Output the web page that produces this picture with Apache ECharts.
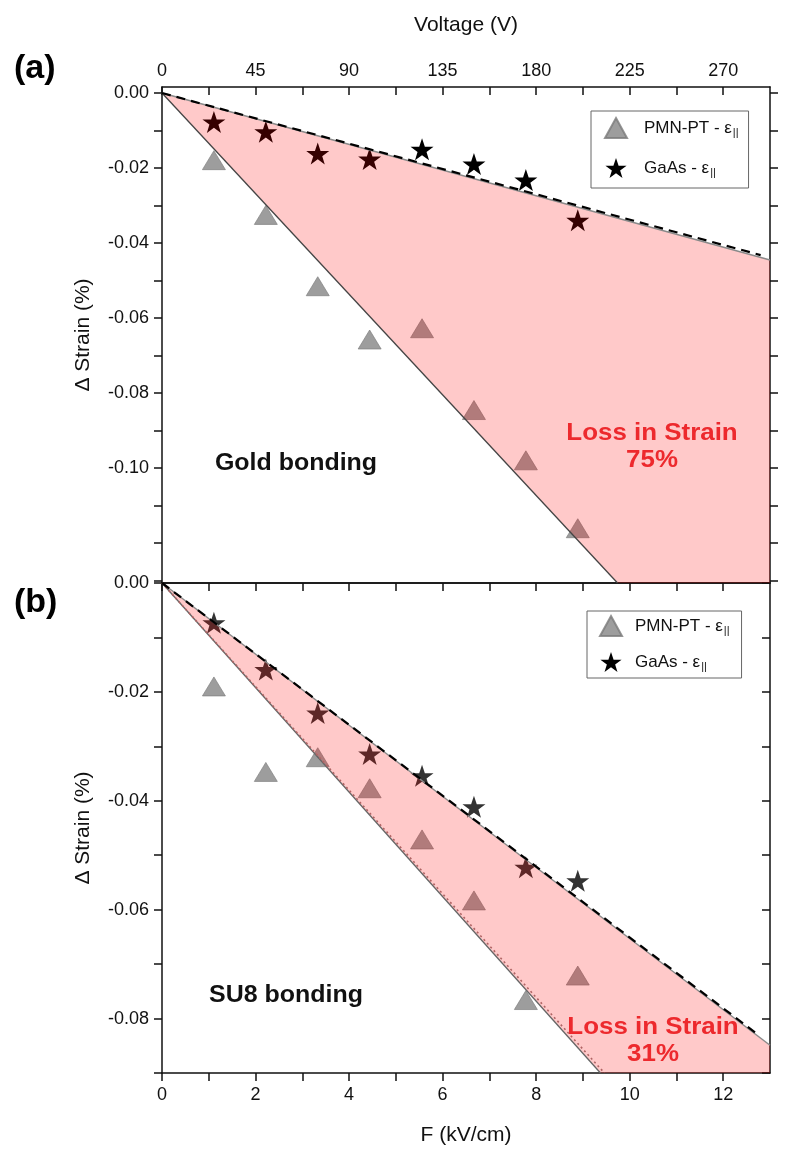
<!DOCTYPE html>
<html><head><meta charset="utf-8">
<script src="https://cdn.jsdelivr.net/npm/echarts@6/dist/echarts.min.js"></script>
<style>html,body{margin:0;padding:0;background:#fff}#c{width:800px;height:1165px}</style>
</head><body><div id="c"></div>
<script>
// ---- data (x in kV/cm, y in Δ strain %) ----
const fieldA = [1.11, 2.22, 3.33, 4.44, 5.56, 6.67, 7.78, 8.89];
const pmnA   = [-0.0179, -0.0325, -0.0515, -0.0657, -0.0627, -0.0845, -0.0979, -0.1160];
const gaasA  = [-0.0077, -0.0103, -0.0161, -0.0176, -0.0150, -0.0189, -0.0232, -0.0339];
const fieldB = [1.11, 2.22, 3.33, 4.44, 5.56, 6.67, 7.78, 8.89];
const pmnB   = [-0.0190, -0.0347, -0.0320, -0.0377, -0.0471, -0.0583, -0.0766, -0.0721];
const gaasB  = [-0.0073, -0.0159, -0.0239, -0.0314, -0.0354, -0.0411, -0.0522, -0.0547];

// fit lines (end points) and shaded "loss" regions
const fitGaasA     = [[0, 0], [13, -0.0445]];
const fitGaasDashA = [[0, 0], [12.8, -0.0432]];
const fitPmnA      = [[0, 0], [9.74, -0.1306]];
const lossA        = [[0, 0], [13, -0.0445], [13, -0.1306], [9.74, -0.1306]];
const fitGaasB     = [[0, 0], [13, -0.0849]];
const fitGaasDashB = [[0, 0], [12.75, -0.0830]];
const fitPmnB      = [[0, 0], [9.375, -0.09]];
const fitPmnDotB   = [[0, 0], [9.46, -0.09]];
const lossB        = [[0, 0], [13, -0.0849], [13, -0.09], [9.375, -0.09]];

// axes
const yRangeA = [-0.1306, 0.0016];
const yRangeB = [-0.09, 0];
const fRange  = [0, 13];
const vRange  = [0, 292.5];
const yLabelsA = [0, -0.02, -0.04, -0.06, -0.08, -0.10];
const yTicksA  = [0, -0.01, -0.02, -0.03, -0.04, -0.05, -0.06, -0.07, -0.08, -0.09, -0.10, -0.11, -0.12, -0.13];
const yLabelsB = [0, -0.02, -0.04, -0.06, -0.08];
const yTicksB  = [0, -0.01, -0.02, -0.03, -0.04, -0.05, -0.06, -0.07, -0.08, -0.09];
const vLabels  = [0, 45, 90, 135, 180, 225, 270];
const vTicks   = [0, 22.5, 45, 67.5, 90, 112.5, 135, 157.5, 180, 202.5, 225, 247.5, 270];
const fLabels  = [0, 2, 4, 6, 8, 10, 12];
const fTicks   = [0, 1, 2, 3, 4, 5, 6, 7, 8, 9, 10, 11, 12];

const FONT = '"Liberation Sans", Arial, sans-serif';
const AX = '#111';
const STAR = 'path://M50,0 L61.8,35.1 L98.1,35.1 L68.8,56.7 L79.4,90.9 L50,69.8 L20.6,90.9 L31.2,56.7 L1.9,35.1 L38.2,35.1 Z';
const FILL = 'rgba(255,0,0,0.21)';

const zip = (xs, ys) => xs.map((x, i) => [x, ys[i]]);

function yAxis(grid, range, labels, ticks, pos, showLabels, inside) {
  return {
    type: 'value', gridIndex: grid, position: pos, min: range[0], max: range[1],
    axisLine: { show: true, onZero: false, lineStyle: { color: AX, width: 1.5 } },
    axisTick: { show: true, inside: inside, length: 8, customValues: ticks, lineStyle: { color: AX, width: 1.5 } },
    axisLabel: { show: showLabels, customValues: labels, formatter: v => v.toFixed(2), margin: 13,
                 fontSize: 18, color: AX, fontFamily: FONT },
    splitLine: { show: false },
    name: showLabels ? 'Δ Strain (%)' : '', nameLocation: 'middle', nameGap: 68,
    nameTextStyle: { fontSize: 21, color: AX, fontFamily: FONT }
  };
}

function xAxis(grid, range, pos, labels, ticks, showTicks, inside, showLabels) {
  return {
    type: 'value', gridIndex: grid, position: pos, min: range[0], max: range[1],
    axisLine: { show: true, onZero: false, lineStyle: { color: AX, width: 1.5 } },
    axisTick: { show: showTicks, inside: inside, length: 8, customValues: ticks, lineStyle: { color: AX, width: 1.5 } },
    axisLabel: { show: showLabels, customValues: labels, margin: inside ? 7 : 13,
                 fontSize: 18, color: AX, fontFamily: FONT },
    splitLine: { show: false }
  };
}

function fillSeries(name, poly, xi, yi) {
  return {
    type: 'custom', name: name, xAxisIndex: xi, yAxisIndex: yi, z: 3, silent: true,
    data: [poly[0]],
    renderItem: (params, api) => ({
      type: 'polygon',
      shape: { points: poly.map(p => api.coord(p)) },
      style: { fill: FILL }
    })
  };
}

function lineSeries(data, xi, yi, style) {
  return { type: 'line', data: data, xAxisIndex: xi, yAxisIndex: yi, showSymbol: false, symbol: 'none',
           z: 4, silent: true, lineStyle: style };
}

const legendRich = {
  e: { fontSize: 17, fontFamily: FONT, color: '#111' },
  s: { fontSize: 11, fontFamily: FONT, color: '#111', padding: [9, 0, 0, 1] }
};

const chart = echarts.init(document.getElementById('c'), null, { renderer: 'canvas' });
chart.setOption({
  animation: false,
  backgroundColor: '#fff',
  grid: [
    { left: 162, right: 30, top: 87, height: 496 },
    { left: 162, right: 30, top: 583, height: 490 }
  ],
  xAxis: [
    xAxis(0, fRange, 'bottom', fLabels, fTicks, false, false, false),
    Object.assign(xAxis(0, vRange, 'top', vLabels, vTicks, true, true, true),
      { name: 'Voltage (V)', nameLocation: 'middle', nameGap: 51,
        nameTextStyle: { fontSize: 21, color: AX, fontFamily: FONT } }),
    Object.assign(xAxis(1, fRange, 'bottom', fLabels, fTicks, true, false, true),
      { name: 'F (kV/cm)', nameLocation: 'middle', nameGap: 52,
        nameTextStyle: { fontSize: 21, color: AX, fontFamily: FONT } }),
    xAxis(1, fRange, 'top', fLabels, fTicks, true, true, false)
  ],
  yAxis: [
    yAxis(0, yRangeA, yLabelsA, yTicksA, 'left', true, false),
    yAxis(0, yRangeA, yLabelsA, yTicksA, 'right', false, false),
    yAxis(1, yRangeB, yLabelsB, yTicksB, 'left', true, false),
    yAxis(1, yRangeB, yLabelsB, yTicksB, 'right', false, true)
  ],
  legend: [
    { left: 591, top: 111, orient: 'vertical', itemGap: 19, itemWidth: 22, itemHeight: 20,
      padding: [6, 10, 10, 13], borderColor: '#666', borderWidth: 1, selectedMode: false,
      data: ['PMN-PT', 'GaAs'],
      formatter: n => n + ' - {e|ε}{s|||}',
      textStyle: { fontSize: 17, fontFamily: FONT, color: '#111', padding: [0, 0, 0, 12], rich: legendRich } },
    { left: 587, top: 611, orient: 'vertical', itemGap: 15, itemWidth: 22, itemHeight: 20,
      padding: [4, 12, 6, 12], borderColor: '#666', borderWidth: 1, selectedMode: false,
      data: ['PMN-PT', 'GaAs'],
      formatter: n => n + ' - {e|ε}{s|||}',
      textStyle: { fontSize: 17, fontFamily: FONT, color: '#111', padding: [0, 0, 0, 8], rich: legendRich } }
  ],
  series: [
    // panel (a)
    { type: 'scatter', name: 'PMN-PT', xAxisIndex: 0, yAxisIndex: 0, z: 2, symbol: 'triangle', symbolSize: [23, 19],
      itemStyle: { color: '#858585', borderColor: '#7a7a7a', borderWidth: 0.8 }, data: zip(fieldA, pmnA) },
    { type: 'scatter', name: 'GaAs', xAxisIndex: 0, yAxisIndex: 0, z: 2, symbol: STAR, symbolSize: [23, 22],
      itemStyle: { color: '#000', opacity: 1 }, data: zip(fieldA, gaasA) },
    fillSeries('lossA', lossA, 0, 0),
    lineSeries(fitPmnA, 0, 0, { color: '#444', width: 1.3, type: 'solid' }),
    lineSeries(fitGaasA, 0, 0, { color: '#8a8a8a', width: 1.5, type: 'solid' }),
    lineSeries(fitGaasDashA, 0, 0, { color: '#000', width: 2.2, type: [9, 6] }),
    // panel (b)
    { type: 'scatter', name: 'PMN-PT', xAxisIndex: 2, yAxisIndex: 2, z: 2, symbol: 'triangle', symbolSize: [23, 19],
      itemStyle: { color: '#858585', borderColor: '#7a7a7a', borderWidth: 0.8 }, data: zip(fieldB, pmnB) },
    { type: 'scatter', name: 'GaAs', xAxisIndex: 2, yAxisIndex: 2, z: 2, symbol: STAR, symbolSize: [23, 22],
      itemStyle: { color: '#000' }, data: zip(fieldB, gaasB) },
    fillSeries('lossB', lossB, 2, 2),
    lineSeries(fitPmnB, 2, 2, { color: '#666', width: 1.3, type: 'solid' }),
    lineSeries(fitPmnDotB, 2, 2, { color: '#b06464', width: 1.6, type: [2, 3] }),
    lineSeries(fitGaasB, 2, 2, { color: '#8a8a8a', width: 1.5, type: 'solid' }),
    lineSeries(fitGaasDashB, 2, 2, { color: '#000', width: 2.2, type: [9, 6] })
  ],
  graphic: [
    { type: 'text', left: 14, top: 52, style: { text: '(a)', font: 'bold 34px ' + FONT, fill: '#000' } },
    { type: 'text', left: 14, top: 586, style: { text: '(b)', font: 'bold 34px ' + FONT, fill: '#000' } },
    { type: 'text', x: 296, y: 463, scaleX: 1.04, style: { text: 'Gold bonding', font: 'bold 24px ' + FONT, fill: '#111',
      align: 'center', verticalAlign: 'middle' } },
    { type: 'text', x: 286, y: 995, scaleX: 1.04, style: { text: 'SU8 bonding', font: 'bold 24px ' + FONT, fill: '#111',
      align: 'center', verticalAlign: 'middle' } },
    { type: 'text', x: 652, y: 447, scaleX: 1.08, style: { text: 'Loss in Strain\n75%', font: 'bold 24px ' + FONT, fill: '#e8353a',
      align: 'center', verticalAlign: 'middle', lineHeight: 27 } },
    { type: 'text', x: 653, y: 1041, scaleX: 1.08, style: { text: 'Loss in Strain\n31%', font: 'bold 24px ' + FONT, fill: '#e8353a',
      align: 'center', verticalAlign: 'middle', lineHeight: 27 } }
  ]
});
</script></body></html>
